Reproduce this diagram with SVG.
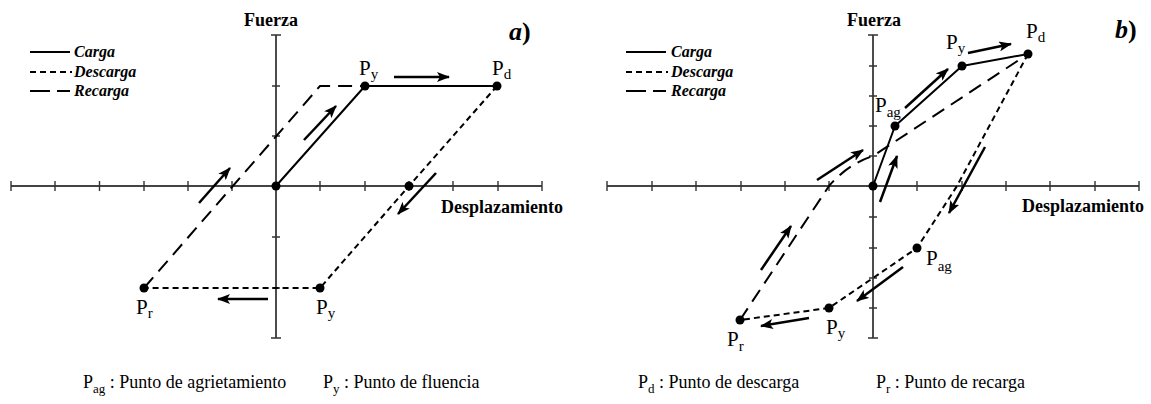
<svg xmlns="http://www.w3.org/2000/svg" width="1151" height="404" viewBox="0 0 1151 404">
<defs>
<marker id="ah" markerUnits="userSpaceOnUse" markerWidth="13" markerHeight="10" refX="12" refY="5" orient="auto">
<path d="M0,0 L13,5 L0,10 L3,5 z" fill="#000"/>
</marker>
<style>
.ax{stroke:#444;stroke-width:2;fill:none}
.axv{stroke:#111;stroke-width:1.5;fill:none}
.tk{stroke:#333;stroke-width:1.4}
.carga{stroke:#000;stroke-width:2;fill:none;stroke-linejoin:round}
.desc{stroke:#000;stroke-width:2;fill:none;stroke-dasharray:6 4}
.rec{stroke:#000;stroke-width:2;fill:none;stroke-dasharray:14 8}
.recl{stroke:#000;stroke-width:2;fill:none;stroke-dasharray:20 7}
.arr{stroke:#000;stroke-width:2.5;fill:none;marker-end:url(#ah)}
.dot{fill:#000}
.bt{font-family:"Liberation Serif","Times New Roman",serif;font-weight:bold;font-size:18px;fill:#000}
.lg{font-family:"Liberation Serif","Times New Roman",serif;font-weight:bold;font-style:italic;font-size:16px;fill:#000}
.pl{font-family:"Liberation Serif","Times New Roman",serif;font-size:21px;fill:#000}
.sb{font-size:15px}
.cap{font-family:"Liberation Serif","Times New Roman",serif;font-size:18px;fill:#000}
.cs{font-size:13px}
.pn{font-family:"Liberation Serif","Times New Roman",serif;font-weight:bold;font-style:italic;font-size:26px;fill:#000}
</style>
</defs>

<!-- Panel a axes -->
<g id="axes-a">
<line class="ax" x1="11" y1="186" x2="542" y2="186"/>
<path class="tk" d="M11,181V191M55,181V191M99.5,181V191M144,181V191M188,181V191M232,181V191M320,181V191M365,181V191M409,181V191M453,181V191M498,181V191M542,181V191"/>
<line class="axv" x1="276" y1="35" x2="276" y2="338"/>
<path class="tk" d="M271,35H281M272,86H280M272,136H280M272,237H280M272,288H280M271,338H281"/>
<text class="bt" x="244" y="26">Fuerza</text>
<text class="bt" x="441" y="213">Desplazamiento</text>
<text class="pn" x="509" y="40">a<tspan font-style="normal">)</tspan></text>
</g>

<g id="legend-a">
<line class="carga" x1="30" y1="52" x2="70" y2="52"/>
<line class="desc" x1="30" y1="72" x2="72" y2="72"/>
<line class="recl" x1="30" y1="91" x2="70" y2="91"/>
<text class="lg" x="74" y="57">Carga</text>
<text class="lg" x="74" y="77">Descarga</text>
<text class="lg" x="74" y="96">Recarga</text>
</g>

<!-- Panel b axes -->
<g id="axes-b">
<line class="ax" x1="607" y1="186" x2="1139" y2="186"/>
<path class="tk" d="M607,181V191M652,181V191M696,181V191M741,181V191M785,181V191M829,181V191M917,181V191M962,181V191M1006,181V191M1050,181V191M1095,181V191M1139,181V191"/>
<line class="axv" x1="873" y1="35" x2="873" y2="338"/>
<path class="tk" d="M868,35H878M869,66H877M869,96H877M869,126H877M869,156H877M869,217H877M869,248H877M869,278H877M869,308H877M868,338H878"/>
<text class="bt" x="847" y="26">Fuerza</text>
<text class="bt" x="1022" y="212">Desplazamiento</text>
<text class="pn" x="1115" y="38">b<tspan font-style="normal">)</tspan></text>
</g>

<g id="legend-b">
<line class="carga" x1="626" y1="52" x2="666" y2="52"/>
<line class="desc" x1="626" y1="72" x2="668" y2="72"/>
<line class="recl" x1="626" y1="91" x2="666" y2="91"/>
<text class="lg" x="671" y="57">Carga</text>
<text class="lg" x="671" y="77">Descarga</text>
<text class="lg" x="671" y="96">Recarga</text>
</g>

<!-- Connectors -->
<g id="connectors">
<path class="carga" d="M276,186 L365,86 L497,86"/>
<path class="desc" d="M497,86 L409,186 L320,288 L144,288"/>
<path class="rec" d="M144,288 L320,86 L365,86"/>
<line class="arr" x1="304" y1="140" x2="336" y2="106"/>
<line class="arr" x1="394" y1="77" x2="449" y2="77"/>
<line class="arr" x1="436" y1="173" x2="398" y2="214"/>
<line class="arr" x1="268" y1="299" x2="218" y2="299"/>
<line class="arr" x1="199" y1="203" x2="230" y2="168"/>

<path class="carga" d="M873,186 L895,126 L962,66 L1028,54"/>
<path class="desc" d="M1028,54 L957,186 L917,248 L829,308 L740,320"/>
<path class="rec" d="M740,320 L829,186 Q848,164 873,156 L1028,54"/>
<line class="arr" x1="817" y1="180" x2="863" y2="150"/>
<line class="arr" x1="880" y1="202" x2="897" y2="156"/>
<line class="arr" x1="905" y1="108" x2="948" y2="69"/>
<line class="arr" x1="968" y1="53" x2="1011" y2="44"/>
<line class="arr" x1="985" y1="147" x2="949" y2="213"/>
<line class="arr" x1="903" y1="267" x2="857" y2="301"/>
<line class="arr" x1="809" y1="318" x2="761" y2="326"/>
<line class="arr" x1="761" y1="270" x2="791" y2="226"/>
</g>

<!-- Panel a nodes -->
<g id="a-origin"><circle class="dot" cx="276" cy="186" r="4.5"/></g>
<g id="a-Py"><circle class="dot" cx="365" cy="86" r="4.5"/><text class="pl" x="359" y="75">P<tspan class="sb" dy="4">y</tspan></text></g>
<g id="a-Pd"><circle class="dot" cx="497" cy="86" r="4.5"/><text class="pl" x="492" y="75">P<tspan class="sb" dy="4">d</tspan></text></g>
<g id="a-zero"><circle class="dot" cx="409" cy="186" r="4.5"/></g>
<g id="a-Py2"><circle class="dot" cx="320" cy="288" r="4.5"/><text class="pl" x="316" y="314">P<tspan class="sb" dy="4">y</tspan></text></g>
<g id="a-Pr"><circle class="dot" cx="144" cy="288" r="4.5"/><text class="pl" x="136" y="314">P<tspan class="sb" dy="4">r</tspan></text></g>

<!-- Panel b nodes -->
<g id="b-origin"><circle class="dot" cx="873" cy="186" r="4.5"/></g>
<g id="b-Pag"><circle class="dot" cx="895" cy="126" r="4.5"/><text class="pl" x="875" y="112">P<tspan class="sb" dy="5">ag</tspan></text></g>
<g id="b-Py"><circle class="dot" cx="962" cy="66" r="4.5"/><text class="pl" x="946" y="49">P<tspan class="sb" dy="4">y</tspan></text></g>
<g id="b-Pd"><circle class="dot" cx="1028" cy="54" r="4.5"/><text class="pl" x="1026" y="38">P<tspan class="sb" dy="4">d</tspan></text></g>
<g id="b-Pag2"><circle class="dot" cx="917" cy="248" r="4.5"/><text class="pl" x="926" y="265">P<tspan class="sb" dy="6">ag</tspan></text></g>
<g id="b-Py2"><circle class="dot" cx="829" cy="308" r="4.5"/><text class="pl" x="826" y="334">P<tspan class="sb" dy="4">y</tspan></text></g>
<g id="b-Pr"><circle class="dot" cx="740" cy="320" r="4.5"/><text class="pl" x="727" y="346">P<tspan class="sb" dy="5">r</tspan></text></g>

<!-- Captions -->
<g id="captions">
<text class="cap" x="83" y="388">P<tspan class="cs" dy="5">ag</tspan><tspan dy="-5"> : Punto de agrietamiento</tspan></text>
<text class="cap" x="323" y="388">P<tspan class="cs" dy="5">y</tspan><tspan dy="-5"> : Punto de fluencia</tspan></text>
<text class="cap" x="638" y="388">P<tspan class="cs" dy="5">d</tspan><tspan dy="-5"> : Punto de descarga</tspan></text>
<text class="cap" x="876" y="388">P<tspan class="cs" dy="5">r</tspan><tspan dy="-5"> : Punto de recarga</tspan></text>
</g>
</svg>
